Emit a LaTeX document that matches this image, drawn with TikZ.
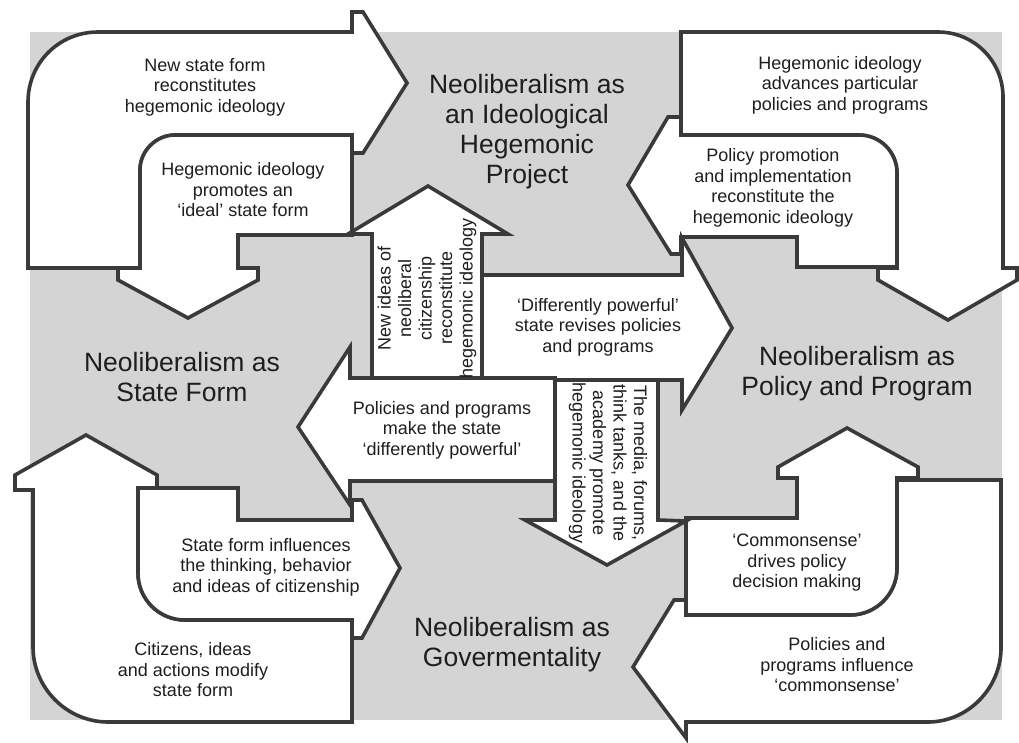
\documentclass[tikz,border=0pt]{standalone}
\usepackage{fontspec}
\setmainfont{Liberation Sans}
\usepackage{xcolor}
\definecolor{panelgray}{HTML}{D4D4D4}
\definecolor{edgegray}{HTML}{3A3A3A}
\definecolor{inkgray}{HTML}{1E1E1E}

\begin{document}
\begin{tikzpicture}[
    x=1pt, y=-1pt,
    flow/.style={draw=edgegray, fill=white, line width=3.6pt, line join=miter},
    lbl/.style={font=\fontsize{18}{20.5}\selectfont, align=center, text=inkgray, inner sep=0pt},
    realm/.style={font=\fontsize{26.5}{30}\selectfont, align=center, text=inkgray, inner sep=0pt}
]
\useasboundingbox (0,0) rectangle (1019,742);

% ---------- background field ----------
\fill[panelgray] (30,32) rectangle (1002,720);

% ---------- top-left loop ----------
\draw[flow] (28,268) -- (28,102) .. controls (28,63) and (59,32) .. (98,32) -- (352,32) -- (352,12)
   -- (363,12) -- (407,83) -- (363,153) -- (352,153) -- (352,135) -- (175,135)
   .. controls (156,135) and (140,151) .. (140,170) -- (140,268) -- cycle;
\draw[flow] (352,135) -- (175,135) .. controls (156,135) and (140,151) .. (140,170) -- (140,268)
   -- (118,268) -- (118,280) -- (188,318) -- (258,280) -- (258,268) -- (238,268) -- (238,235)
   -- (352,235) -- cycle;

% ---------- top-right loop ----------
\draw[flow] (681,135) -- (681,32) -- (938,32) .. controls (974,32) and (1003,61) .. (1003,97)
   -- (1003,268) -- (1017,268) -- (1017,280) -- (948,320) -- (878,280) -- (878,268) -- (897,268)
   -- (897,173) .. controls (897,152) and (880,135) .. (859,135) -- cycle;
\draw[flow] (681,135) -- (859,135) .. controls (880,135) and (897,152) .. (897,173) -- (897,267)
   -- (797,267) -- (797,237) -- (681,237) -- (681,254) -- (671,254) -- (628,185) -- (668,117)
   -- (681,117) -- cycle;

% ---------- bottom-right loop ----------
\draw[flow] (897,480) -- (1001,480) -- (1001,648) .. controls (1001,688) and (968,722) .. (928,722)
   -- (686,722) -- (686,738) -- (633,667) -- (674,600) -- (686,600) -- (686,615) -- (850,615)
   .. controls (876,615) and (897,594) .. (897,568) -- cycle;
\draw[flow] (686,518) -- (797,518) -- (797,478) -- (778,478) -- (778,467) -- (847,428) -- (918,467)
   -- (918,478) -- (897,478) -- (897,568) .. controls (897,594) and (876,615) .. (850,615)
   -- (686,615) -- cycle;

% ---------- bottom-left loop ----------
\draw[flow] (138,488) -- (157,488) -- (157,475) -- (86,435) -- (15,475) -- (15,490) -- (33,490)
   -- (33,647) .. controls (33,688) and (67,722) .. (108,722) -- (352,722) -- (352,620) -- (185,620)
   .. controls (159,620) and (138,599) .. (138,573) -- cycle;
\draw[flow] (138,488) -- (238,488) -- (238,520) -- (352,520) -- (352,500) -- (362,500) -- (400,568)
   -- (362,638) -- (352,638) -- (352,620) -- (185,620) .. controls (159,620) and (138,599) .. (138,573)
   -- cycle;

% ---------- centre cross ----------
\draw[flow] (372,378) -- (372,234) -- (348,234) -- (428,186) -- (508,234) -- (482,234) -- (482,378) -- cycle;
\draw[flow] (482,275) -- (682,275) -- (682,238) -- (732,328) -- (682,410) -- (682,380) -- (482,380) -- cycle;
\draw[flow] (555,378) -- (350,378) -- (350,347) -- (298,427) -- (350,505) -- (350,481) -- (555,481) -- cycle;
\draw[flow] (555,380) -- (658,380) -- (658,520) -- (686,521) -- (607,565) -- (525,520) -- (555,520) -- cycle;

% ---------- realm titles ----------
\node[realm] (ideo) at (527,132) {Neoliberalism as\\an Ideological\\Hegemonic\\Project};
\node[realm] (state) at (182,377) {Neoliberalism as\\State Form};
\node[realm] (policy) at (857,374) {Neoliberalism as\\Policy and Program};
\node[realm] (gov) at (512,645) {Neoliberalism as\\Govermentality};

% ---------- arrow texts ----------
\node[lbl] (stateToIdeo) at (205,87) {New state form\\reconstitutes\\hegemonic ideology};
\node[lbl] (ideoToState) at (243,190) {Hegemonic ideology\\promotes an\\‘ideal’ state form};
\node[lbl] (ideoToPolicy) at (840,85) {Hegemonic ideology\\advances particular\\policies and programs};
\node[lbl] (policyToIdeo) at (773,188) {Policy promotion\\and implementation\\reconstitute the\\hegemonic ideology};
\node[lbl] (commonToPolicy) at (797,563) {‘Commonsense’\\drives policy\\decision making};
\node[lbl] (policyToCommon) at (837,665) {Policies and\\programs influence\\‘commonsense’};
\node[lbl] (stateToCitizen) at (266,567) {State form influences\\the thinking, behavior\\and ideas of citizenship};
\node[lbl] (citizenToState) at (193,670) {Citizens, ideas\\and actions modify\\state form};
\node[lbl, rotate=90] (citizenToIdeo) at (427,298) {New ideas of\\neoliberal\\citizenship\\reconstitute\\hegemonic ideology};
\node[lbl] (stateToPolicy) at (598,327) {‘Differently powerful’\\state revises policies\\and programs};
\node[lbl] (policyToState) at (442,430) {Policies and programs\\make the state\\‘differently powerful’};
\node[lbl, rotate=-90] (ideoToGov) at (608,463) {The media, forums,\\think tanks, and the\\academy promote\\hegemonic ideology};

\end{tikzpicture}
\end{document}
